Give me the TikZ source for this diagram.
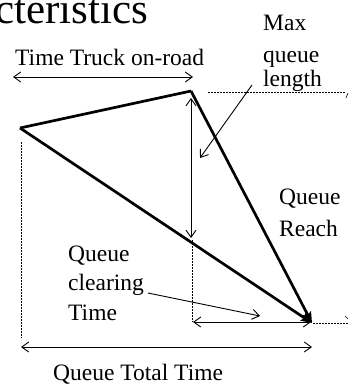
\documentclass[tikz,border=0pt]{standalone}
\usepackage{fontspec}
\setmainfont{Liberation Serif}
\usetikzlibrary{arrows.meta}
\begin{document}
\begin{tikzpicture}[x=1pt,y=-1pt,
  lbl/.style={font=\fontsize{23.5}{28}\selectfont, inner sep=0pt, anchor=base west},
  heavy/.style={line width=2.7pt, line join=round},
  dimline/.style={line width=0.9pt, {Straight Barb[length=7pt,width=10pt]}-{Straight Barb[length=7pt,width=10pt]}},
  pointer/.style={line width=0.9pt, -{Straight Barb[length=7pt,width=10pt]}},
  guide/.style={line width=0.6pt, dash pattern=on 2pt off 1pt},
  bigtip/.style={-{Stealth[length=11pt,width=9pt,inset=2pt]}}
]
\useasboundingbox (0,0) rectangle (348,385);

% title (cut off)
\node[inner sep=0pt, anchor=base west, font=\fontsize{43}{43}\selectfont] (title) at (-5,24) {cteristics};

% key points
\coordinate (L) at (20,128);
\coordinate (T) at (191,91);
\coordinate (B) at (312,323);

% guides
\coordinate (gh1) at (208,92);
\coordinate (gh2) at (345,92);
\coordinate (gr1) at (313,323);
\coordinate (gr2) at (348,323);
\coordinate (gl1) at (21,142);
\coordinate (gl2) at (21,338);
\coordinate (gm1) at (192,240);
\coordinate (gm2) at (192,322);
\draw[guide] (gh1) -- (gh2);
\draw[guide] (gr1) -- (gr2);
\draw[guide] (gl1) -- (gl2);
\draw[guide] (gm1) -- (gm2);
\coordinate (m1a) at (346,98);
\coordinate (m1b) at (348,93);
\draw[line width=0.6pt] (m1a) -- (m1b);
\coordinate (m2a) at (345,316);
\coordinate (m2b) at (348,319);
\draw[line width=0.6pt] (m2a) -- (m2b);

% triangle
\draw[heavy] (L) -- (T);
\draw[heavy, bigtip] (T) -- (B);
\draw[heavy, bigtip] (L) -- (B);

% dimension arrows
\coordinate (tt1) at (13,77);
\coordinate (tt2) at (193,77);
\draw[dimline] (tt1) -- (tt2);
\coordinate (mq1) at (191,98);
\coordinate (mq2) at (191,238);
\draw[dimline] (mq1) -- (mq2);
\coordinate (qc1) at (193,322);
\coordinate (qc2) at (311,322);
\draw[dimline] (qc1) -- (qc2);
\coordinate (qt1) at (21,347);
\coordinate (qt2) at (312,347);
\draw[dimline] (qt1) -- (qt2);

% labels
\node[lbl] (ttr) at (15,66) {Time Truck on-road};
\node[lbl] (mql1) at (263,31) {Max};
\node[lbl] (mql2) at (263,63) {queue};
\node[lbl] (mql3) at (263,87) {length};
\node[lbl] (qr1) at (279,204) {Queue};
\node[lbl] (qr2) at (279,236) {Reach};
\node[lbl] (qct1) at (68,261) {Queue};
\node[lbl] (qct2) at (68,290) {clearing};
\node[lbl] (qct3) at (68,320) {Time};
\node[lbl] (qtt) at (53,380) {Queue Total Time};

% pointers
\coordinate (p1a) at (252,85);
\coordinate (p1b) at (200,158);
\draw[pointer] (p1a) -- (p1b);
\coordinate (p2a) at (148,293);
\coordinate (p2b) at (260,316);
\draw[pointer] (p2a) -- (p2b);
\end{tikzpicture}
\end{document}
